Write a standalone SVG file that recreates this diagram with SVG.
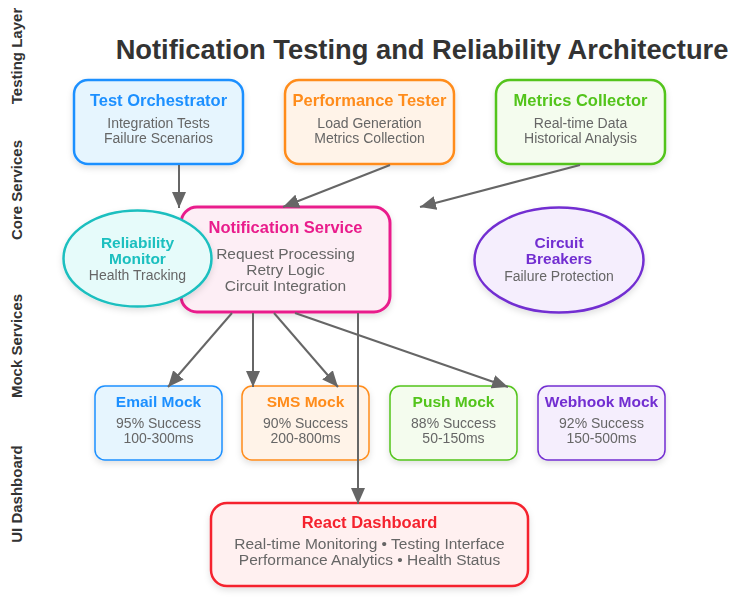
<svg xmlns="http://www.w3.org/2000/svg" width="738" height="601" viewBox="0 0 738 601">
<defs>
  <filter id="sh" x="-20%" y="-20%" width="140%" height="150%">
    <feDropShadow dx="0" dy="3" stdDeviation="3" flood-color="#000" flood-opacity="0.12"/>
  </filter>
  <marker id="arr" markerUnits="userSpaceOnUse" markerWidth="16" markerHeight="14" refX="16" refY="7" orient="auto">
    <path d="M0,0 L16,7 L0,14 z" fill="#666"/>
  </marker>
  <style>
    text { font-family: "Liberation Sans", Arial, sans-serif; text-anchor: middle; }
    .title { font-size: 27.3px; font-weight: bold; fill: #333; }
    .side { font-size: 15px; font-weight: bold; fill: #333; }
    .h { font-size: 16.5px; font-weight: bold; }
    .he { font-size: 15.5px; font-weight: bold; }
    .hm { font-size: 15.5px; font-weight: bold; }
    .s { font-size: 14px; fill: #666; }
    .s16 { font-size: 15.5px; fill: #666; }
    .conn { stroke: #666; stroke-width: 2; fill: none; marker-end: url(#arr); }
  </style>
</defs>
<rect width="738" height="601" fill="#fff"/>

<text class="title" x="422" y="59">Notification Testing and Reliability Architecture</text>

<g id="side-labels">
  <text class="side" transform="translate(22,56) rotate(-90)">Testing Layer</text>
  <text class="side" transform="translate(22,190) rotate(-90)">Core Services</text>
  <text class="side" transform="translate(22,346) rotate(-90)">Mock Services</text>
  <text class="side" transform="translate(22,494) rotate(-90)">UI Dashboard</text>
</g>

<g id="test-orchestrator" filter="url(#sh)">
  <rect x="74" y="80" width="169" height="84" rx="14" fill="#E6F5FE" stroke="#1E90FF" stroke-width="2.5"/>
  <text class="h" x="158.5" y="106" fill="#1E90FF">Test Orchestrator</text>
  <text class="s" x="158.5" y="128">Integration Tests</text>
  <text class="s" x="158.5" y="143">Failure Scenarios</text>
</g>

<g id="performance-tester" filter="url(#sh)">
  <rect x="285" y="80" width="169" height="84" rx="14" fill="#FFF3E8" stroke="#FF8C1A" stroke-width="2.5"/>
  <text class="h" x="369.5" y="106" fill="#FF8C1A">Performance Tester</text>
  <text class="s" x="369.5" y="128">Load Generation</text>
  <text class="s" x="369.5" y="143">Metrics Collection</text>
</g>

<g id="metrics-collector" filter="url(#sh)">
  <rect x="496" y="80" width="169" height="84" rx="14" fill="#F4FCEE" stroke="#52C41A" stroke-width="2.5"/>
  <text class="h" x="580.5" y="106" fill="#52C41A">Metrics Collector</text>
  <text class="s" x="580.5" y="128">Real-time Data</text>
  <text class="s" x="580.5" y="143">Historical Analysis</text>
</g>

<g id="notification-service" filter="url(#sh)">
  <rect x="181" y="207" width="209" height="105" rx="16" fill="#FDEEF5" stroke="#E91E8C" stroke-width="3"/>
  <text class="h" x="285.5" y="233" fill="#E91E8C">Notification Service</text>
  <text class="s16" x="285.5" y="258.5">Request Processing</text>
  <text class="s16" x="285.5" y="274.5">Retry Logic</text>
  <text class="s16" x="285.5" y="290.5">Circuit Integration</text>
</g>

<g id="reliability-monitor" filter="url(#sh)">
  <ellipse cx="137.5" cy="258.5" rx="74" ry="48" fill="#E6FBFA" stroke="#1ABFBF" stroke-width="2.5"/>
  <text class="he" x="137.5" y="248" fill="#1ABFBF">Reliability</text>
  <text class="he" x="137.5" y="264" fill="#1ABFBF">Monitor</text>
  <text class="s" x="137.5" y="280">Health Tracking</text>
</g>

<g id="circuit-breakers" filter="url(#sh)">
  <ellipse cx="559" cy="260" rx="84.5" ry="52.5" fill="#F5EEFD" stroke="#722ED1" stroke-width="2.5"/>
  <text class="he" x="559" y="248" fill="#722ED1">Circuit</text>
  <text class="he" x="559" y="264" fill="#722ED1">Breakers</text>
  <text class="s" x="559" y="281">Failure Protection</text>
</g>

<g id="email-mock" filter="url(#sh)">
  <rect x="95" y="386" width="127" height="74" rx="10" fill="#E6F5FE" stroke="#1E90FF" stroke-width="1.5"/>
  <text class="hm" x="158.5" y="407" fill="#1E90FF">Email Mock</text>
  <text class="s" x="158.5" y="428">95% Success</text>
  <text class="s" x="158.5" y="443">100-300ms</text>
</g>

<g id="sms-mock" filter="url(#sh)">
  <rect x="242" y="386" width="127" height="74" rx="10" fill="#FFF3E8" stroke="#FF8C1A" stroke-width="1.5"/>
  <text class="hm" x="305.5" y="407" fill="#FF8C1A">SMS Mock</text>
  <text class="s" x="305.5" y="428">90% Success</text>
  <text class="s" x="305.5" y="443">200-800ms</text>
</g>

<g id="push-mock" filter="url(#sh)">
  <rect x="390" y="386" width="127" height="74" rx="10" fill="#F4FCEE" stroke="#52C41A" stroke-width="1.5"/>
  <text class="hm" x="453.5" y="407" fill="#52C41A">Push Mock</text>
  <text class="s" x="453.5" y="428">88% Success</text>
  <text class="s" x="453.5" y="443">50-150ms</text>
</g>

<g id="webhook-mock" filter="url(#sh)">
  <rect x="538" y="386" width="127" height="74" rx="10" fill="#F5EEFD" stroke="#722ED1" stroke-width="1.5"/>
  <text class="hm" x="601.5" y="407" fill="#722ED1">Webhook Mock</text>
  <text class="s" x="601.5" y="428">92% Success</text>
  <text class="s" x="601.5" y="443">150-500ms</text>
</g>

<g id="react-dashboard" filter="url(#sh)">
  <rect x="211" y="503" width="317" height="83" rx="16" fill="#FFF0F0" stroke="#F5222D" stroke-width="2.5"/>
  <text class="h" x="369.5" y="528" fill="#F5222D">React Dashboard</text>
  <text class="s16" x="369.5" y="549">Real-time Monitoring • Testing Interface</text>
  <text class="s16" x="369.5" y="565">Performance Analytics • Health Status</text>
</g>

<g id="connectors">
  <line class="conn" x1="179" y1="165" x2="179" y2="208"/>
  <line class="conn" x1="390" y1="165" x2="283" y2="207"/>
  <line class="conn" x1="580" y1="165" x2="420" y2="207"/>
  <line class="conn" x1="232" y1="313" x2="168" y2="387"/>
  <line class="conn" x1="253" y1="313" x2="253" y2="387"/>
  <line class="conn" x1="274" y1="313" x2="338" y2="387"/>
  <line class="conn" x1="295" y1="313" x2="508" y2="387"/>
  <line class="conn" x1="358" y1="313" x2="358" y2="504"/>
</g>
</svg>
